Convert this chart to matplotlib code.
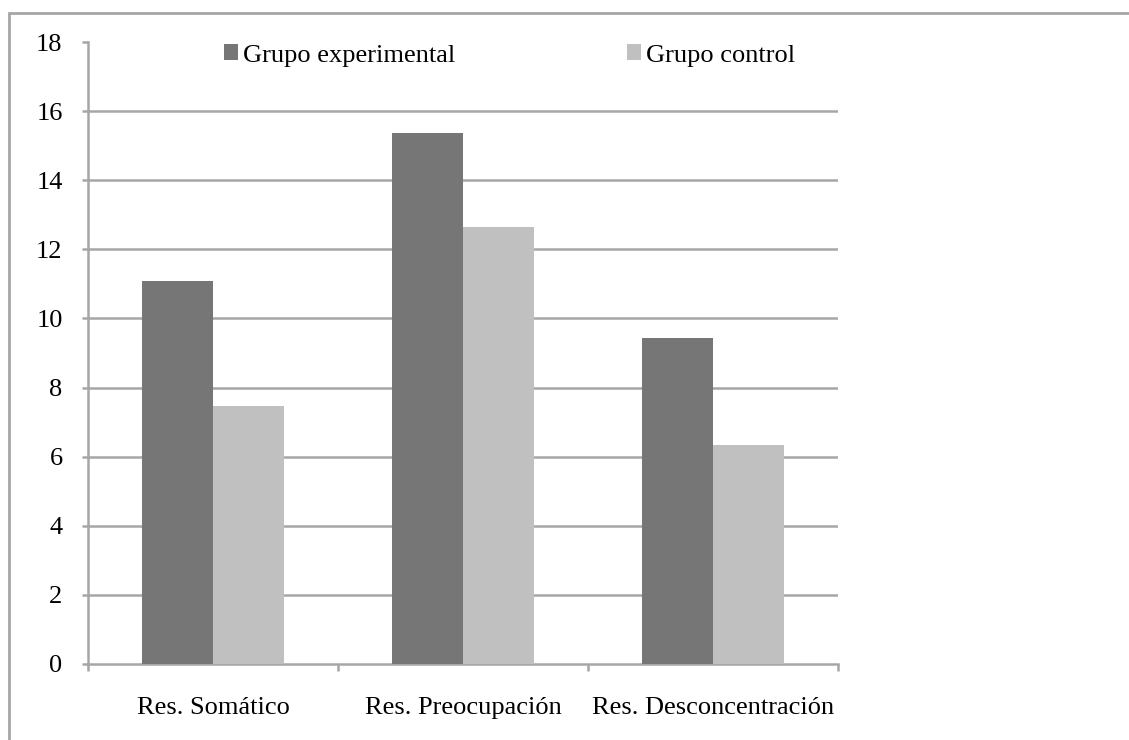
import numpy as np
import matplotlib.pyplot as plt
from matplotlib.patches import Rectangle

categorias = ['Res. Somático', 'Res. Preocupación', 'Res. Desconcentración']
experimental = [11.08, 15.37, 9.43]
control = [7.46, 12.64, 6.33]
series = ['Grupo experimental', 'Grupo control']
yticks = [0, 2, 4, 6, 8, 10, 12, 14, 16, 18]

plt.rcParams['font.family'] = ['Liberation Serif', 'DejaVu Serif']
gris = '#a6a6a6'
fs = 19

fig = plt.figure(figsize=(11.29, 7.4), dpi=100)
# marco exterior del grafico
fig.patches.append(Rectangle((9/1129, -0.1), 1.2, 1 - 13/740 + 0.1, transform=fig.transFigure,
                             fill=False, edgecolor=gris, lw=2))

ax = fig.add_axes([88/1129, 1 - 664/740, 750/1129, 622/740])
x = np.arange(len(categorias))
w = 1 / 3.5
ax.bar(x - w/2, experimental, w, color='#767676', label=series[0], zorder=3)
ax.bar(x + w/2, control, w, color='#c0c0c0', label=series[1], zorder=3)

ax.set_xlim(-0.5, 2.5)
ax.set_ylim(0, 18)
ax.set_yticks(yticks)
ax.set_yticklabels([str(v) for v in yticks])
for v in yticks[1:-1]:
    ax.axhline(v, color=gris, lw=1.8, zorder=1)

ax.set_xticks([-0.5, 0.5, 1.5, 2.5])
ax.set_xticklabels([])
ax.set_xticks(x, minor=True)
ax.set_xticklabels(categorias, minor=True)
ax.tick_params(axis='x', which='minor', length=0, pad=24, labelsize=fs)
ax.tick_params(axis='x', which='major', length=5, width=1.8, color=gris, direction='out')
ax.tick_params(axis='y', length=4.3, width=1.8, color=gris, direction='out', pad=14, labelsize=fs)

for s in ['top', 'right']:
    ax.spines[s].set_visible(False)
for s in ['left', 'bottom']:
    ax.spines[s].set_color(gris)
    ax.spines[s].set_linewidth(1.8)

ax.legend(loc='upper left', bbox_to_anchor=(0.181, 0.996), ncol=2, frameon=False,
          fontsize=fs, borderpad=0, borderaxespad=0, handlelength=0.53, handleheight=0.53,
          handletextpad=0.19, columnspacing=6.5)

fig.savefig('out.png', dpi=100)
